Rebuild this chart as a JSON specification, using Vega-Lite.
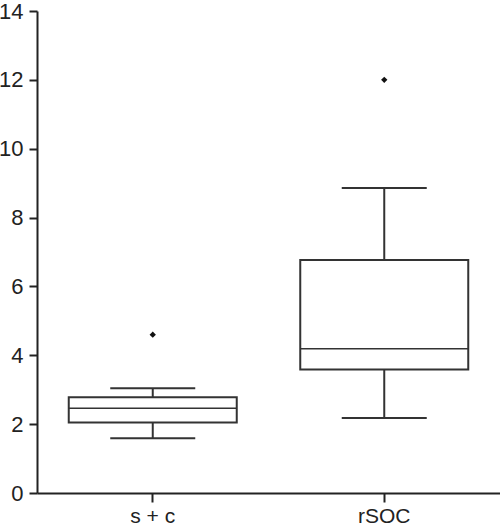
{
  "$schema": "https://vega.github.io/schema/vega-lite/v6.json",
  "width": 463,
  "height": 482,
  "autosize": "none",
  "padding": {"left": 37, "top": 11, "right": 0, "bottom": 36},
  "background": "white",
  "config": {
    "view": {"stroke": null},
    "font": "Liberation Sans"
  },
  "datasets": {
    "stats": [
      {"group": "s + c", "lower": 1.59, "q1": 2.05, "median": 2.46, "q3": 2.78, "upper": 3.04},
      {"group": "rSOC", "lower": 2.18, "q1": 3.59, "median": 4.19, "q3": 6.77, "upper": 8.86}
    ],
    "outliers": [
      {"group": "s + c", "value": 4.6},
      {"group": "rSOC", "value": 12.0}
    ]
  },
  "encoding": {
    "x": {
      "field": "group",
      "type": "nominal",
      "sort": ["s + c", "rSOC"],
      "scale": {"domain": ["s + c", "rSOC"], "paddingInner": 0, "paddingOuter": 0},
      "axis": {
        "title": null,
        "labelAngle": 0,
        "labelFontSize": 21,
        "labelColor": "#222",
        "labelPadding": 3,
        "domainColor": "#222",
        "domainWidth": 2,
        "tickColor": "#222",
        "tickWidth": 2,
        "tickSize": 9
      }
    }
  },
  "layer": [
    {
      "data": {"name": "stats"},
      "mark": {"type": "rule", "color": "#333", "strokeWidth": 2},
      "encoding": {
        "y": {"field": "q3", "type": "quantitative",
          "scale": {"domain": [0, 14], "nice": false, "zero": false},
          "axis": {
            "title": null,
            "values": [0,1,2,3,4,5,6,7,8,9,10,11,12,13,14],
            "labelExpr": "datum.value % 2 === 0 ? datum.label : ''",
            "labelFontSize": 22,
            "labelColor": "#222",
            "labelPadding": 6,
            "domainColor": "#222",
            "domainWidth": 2,
            "tickColor": "#222",
            "tickWidth": 2,
            "tickSize": {"condition": {"test": "datum.value % 2 === 0", "value": 8}, "value": 5},
            "grid": false
          }
        },
        "y2": {"field": "upper"}
      }
    },
    {
      "data": {"name": "stats"},
      "mark": {"type": "rule", "color": "#333", "strokeWidth": 2},
      "encoding": {
        "y": {"field": "lower", "type": "quantitative"},
        "y2": {"field": "q1"}
      }
    },
    {
      "data": {"name": "stats"},
      "mark": {"type": "bar", "size": 168, "fill": "white", "stroke": "#333", "strokeWidth": 2},
      "encoding": {
        "y": {"field": "q1", "type": "quantitative"},
        "y2": {"field": "q3"}
      }
    },
    {
      "data": {"name": "stats"},
      "mark": {"type": "tick", "size": 168, "thickness": 1.5, "color": "#333", "opacity": 1},
      "encoding": {
        "y": {"field": "median", "type": "quantitative"}
      }
    },
    {
      "data": {"name": "stats"},
      "mark": {"type": "tick", "size": 85, "thickness": 2, "color": "#333", "opacity": 1},
      "encoding": {
        "y": {"field": "upper", "type": "quantitative"}
      }
    },
    {
      "data": {"name": "stats"},
      "mark": {"type": "tick", "size": 85, "thickness": 2, "color": "#333", "opacity": 1},
      "encoding": {
        "y": {"field": "lower", "type": "quantitative"}
      }
    },
    {
      "data": {"name": "outliers"},
      "mark": {"type": "point", "shape": "diamond", "filled": true, "size": 40, "color": "#111", "opacity": 1},
      "encoding": {
        "y": {"field": "value", "type": "quantitative"}
      }
    }
  ]
}
